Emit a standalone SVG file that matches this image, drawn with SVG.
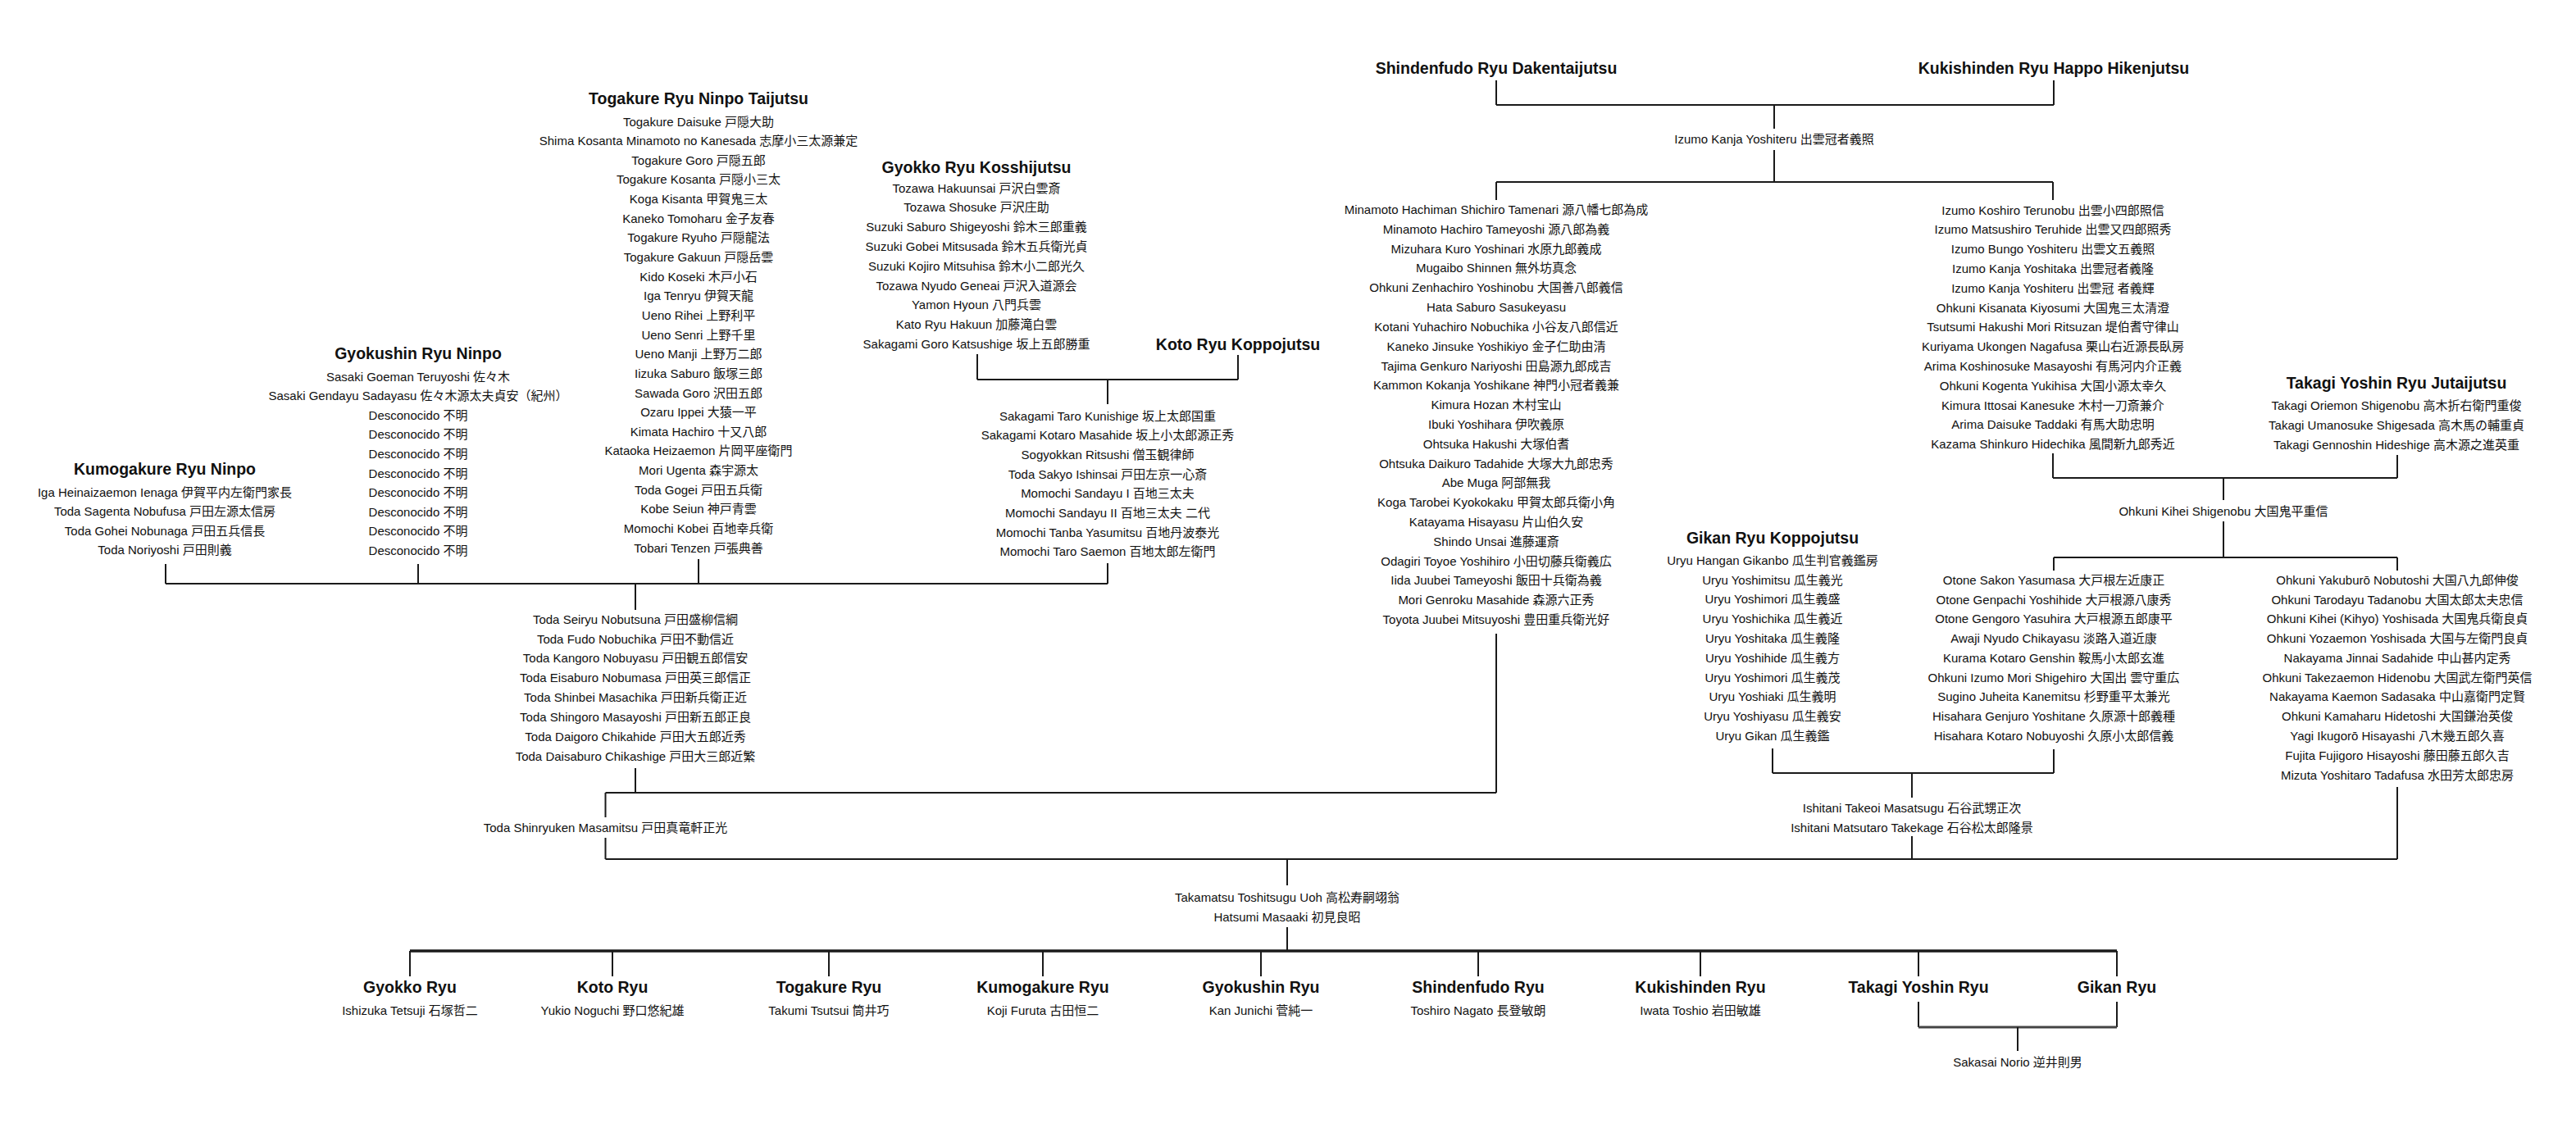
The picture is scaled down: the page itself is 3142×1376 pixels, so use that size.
<svg xmlns="http://www.w3.org/2000/svg" width="3142" height="1376" viewBox="0 0 3142 1376">
<style>
text{font-family:"Liberation Sans","Noto Sans CJK JP",sans-serif;fill:#111;text-anchor:middle}
.t{font-size:19.5px;font-weight:bold}
.e{font-size:15px}
.c line{stroke:#1a1a1a;stroke-width:2;fill:none}
</style>
<rect width="3142" height="1376" fill="#fff"/>
<g class="c" id="connectors">
<line x1="1825" y1="98" x2="1825" y2="128"/>
<line x1="2505" y1="98" x2="2505" y2="128"/>
<line x1="1825" y1="128" x2="2505" y2="128"/>
<line x1="2164" y1="128" x2="2164" y2="157"/>
<line x1="2164" y1="183" x2="2164" y2="222"/>
<line x1="1825" y1="222" x2="2504" y2="222"/>
<line x1="1825" y1="222" x2="2504" y2="222"/>
<line x1="1825" y1="222" x2="1825" y2="244"/>
<line x1="2504" y1="222" x2="2504" y2="244"/>
<line x1="1192" y1="432" x2="1192" y2="463"/>
<line x1="1510" y1="433" x2="1510" y2="463"/>
<line x1="1192" y1="463" x2="1510" y2="463"/>
<line x1="1351" y1="463" x2="1351" y2="493"/>
<line x1="202" y1="688" x2="202" y2="712"/>
<line x1="510" y1="688" x2="510" y2="712"/>
<line x1="852" y1="682" x2="852" y2="712"/>
<line x1="1351" y1="687" x2="1351" y2="712"/>
<line x1="202" y1="712" x2="1351" y2="712"/>
<line x1="775" y1="712" x2="775" y2="744"/>
<line x1="775" y1="937" x2="775" y2="967"/>
<line x1="1825" y1="773" x2="1825" y2="967"/>
<line x1="738.5" y1="967" x2="1825" y2="967"/>
<line x1="738.5" y1="967" x2="738.5" y2="997"/>
<line x1="738.5" y1="1022" x2="738.5" y2="1048"/>
<line x1="738.5" y1="1048" x2="2924" y2="1048"/>
<line x1="2504" y1="553" x2="2504" y2="583"/>
<line x1="2924" y1="555" x2="2924" y2="583"/>
<line x1="2504" y1="583" x2="2924" y2="583"/>
<line x1="2712" y1="583" x2="2712" y2="610"/>
<line x1="2712" y1="636" x2="2712" y2="680"/>
<line x1="2505" y1="680" x2="2924" y2="680"/>
<line x1="2505" y1="680" x2="2505" y2="696"/>
<line x1="2924" y1="680" x2="2924" y2="696"/>
<line x1="2162" y1="913" x2="2162" y2="943"/>
<line x1="2505" y1="914" x2="2505" y2="943"/>
<line x1="2162" y1="943" x2="2505" y2="943"/>
<line x1="2332" y1="943" x2="2332" y2="973"/>
<line x1="2332" y1="1020" x2="2332" y2="1048"/>
<line x1="2924" y1="960" x2="2924" y2="1048"/>
<line x1="1570" y1="1048" x2="1570" y2="1080"/>
<line x1="1570" y1="1131" x2="1570" y2="1160"/>
<line x1="500" y1="1160" x2="2582" y2="1160" style="stroke-width:3.5"/>
<line x1="500" y1="1160" x2="500" y2="1191"/>
<line x1="747" y1="1160" x2="747" y2="1191"/>
<line x1="1011" y1="1160" x2="1011" y2="1191"/>
<line x1="1272" y1="1160" x2="1272" y2="1191"/>
<line x1="1538" y1="1160" x2="1538" y2="1191"/>
<line x1="1803" y1="1160" x2="1803" y2="1191"/>
<line x1="2074" y1="1160" x2="2074" y2="1191"/>
<line x1="2340" y1="1160" x2="2340" y2="1191"/>
<line x1="2582" y1="1160" x2="2582" y2="1191"/>
<line x1="2340" y1="1222" x2="2340" y2="1253"/>
<line x1="2582" y1="1222" x2="2582" y2="1253"/>
<line x1="2340" y1="1253" x2="2582" y2="1253" style="stroke-width:3;stroke:#444"/>
<line x1="2461" y1="1253" x2="2461" y2="1282"/>
</g>

<g id="shindenfudo-top"><text class="t" x="1825" y="90">Shindenfudo Ryu Dakentaijutsu</text></g>
<g id="kukishinden-top"><text class="t" x="2505" y="90">Kukishinden Ryu Happo Hikenjutsu</text></g>
<g id="izumo-kanja"><text class="e" x="2164" y="174.5">Izumo Kanja Yoshiteru 出雲冠者義照</text></g>

<g id="togakure">
<text class="t" x="852" y="127">Togakure Ryu Ninpo Taijutsu</text>
<text class="e" x="852" y="153.5">Togakure Daisuke 戸隠大助</text>
<text class="e" x="852" y="177.1">Shima Kosanta Minamoto no Kanesada 志摩小三太源兼定</text>
<text class="e" x="852" y="200.8">Togakure Goro 戸隠五郎</text>
<text class="e" x="852" y="224.4">Togakure Kosanta 戸隠小三太</text>
<text class="e" x="852" y="248.1">Koga Kisanta 甲賀鬼三太</text>
<text class="e" x="852" y="271.7">Kaneko Tomoharu 金子友春</text>
<text class="e" x="852" y="295.3">Togakure Ryuho 戸隠龍法</text>
<text class="e" x="852" y="319">Togakure Gakuun 戸隠岳雲</text>
<text class="e" x="852" y="342.6">Kido Koseki 木戸小石</text>
<text class="e" x="852" y="366.3">Iga Tenryu 伊賀天龍</text>
<text class="e" x="852" y="389.9">Ueno Rihei 上野利平</text>
<text class="e" x="852" y="413.5">Ueno Senri 上野千里</text>
<text class="e" x="852" y="437.2">Ueno Manji 上野万二郎</text>
<text class="e" x="852" y="460.8">Iizuka Saburo 飯塚三郎</text>
<text class="e" x="852" y="484.5">Sawada Goro 沢田五郎</text>
<text class="e" x="852" y="508.1">Ozaru Ippei 大猿一平</text>
<text class="e" x="852" y="531.7">Kimata Hachiro 十又八郎</text>
<text class="e" x="852" y="555.4">Kataoka Heizaemon 片岡平座衛門</text>
<text class="e" x="852" y="579">Mori Ugenta 森宇源太</text>
<text class="e" x="852" y="602.7">Toda Gogei 戸田五兵衛</text>
<text class="e" x="852" y="626.3">Kobe Seiun 神戸青雲</text>
<text class="e" x="852" y="649.9">Momochi Kobei 百地幸兵衛</text>
<text class="e" x="852" y="673.6">Tobari Tenzen 戸張典善</text>
</g>

<g id="gyokko">
<text class="t" x="1191" y="211">Gyokko Ryu Kosshijutsu</text>
<text class="e" x="1191" y="234.5">Tozawa Hakuunsai 戸沢白雲斎</text>
<text class="e" x="1191" y="258.3">Tozawa Shosuke 戸沢庄助</text>
<text class="e" x="1191" y="282.1">Suzuki Saburo Shigeyoshi 鈴木三郎重義</text>
<text class="e" x="1191" y="305.9">Suzuki Gobei Mitsusada 鈴木五兵衛光貞</text>
<text class="e" x="1191" y="329.7">Suzuki Kojiro Mitsuhisa 鈴木小二郎光久</text>
<text class="e" x="1191" y="353.5">Tozawa Nyudo Geneai 戸沢入道源会</text>
<text class="e" x="1191" y="377.3">Yamon Hyoun 八門兵雲</text>
<text class="e" x="1191" y="401.1">Kato Ryu Hakuun 加藤滝白雲</text>
<text class="e" x="1191" y="424.9">Sakagami Goro Katsushige 坂上五郎勝重</text>
</g>

<g id="koto">
<text class="t" x="1510" y="427">Koto Ryu Koppojutsu</text>
<text class="e" x="1351" y="512.5">Sakagami Taro Kunishige 坂上太郎国重</text>
<text class="e" x="1351" y="536.2">Sakagami Kotaro Masahide 坂上小太郎源正秀</text>
<text class="e" x="1351" y="559.9">Sogyokkan Ritsushi 僧玉観律師</text>
<text class="e" x="1351" y="583.6">Toda Sakyo Ishinsai 戸田左京一心斎</text>
<text class="e" x="1351" y="607.3">Momochi Sandayu I 百地三太夫</text>
<text class="e" x="1351" y="631">Momochi Sandayu II 百地三太夫 二代</text>
<text class="e" x="1351" y="654.7">Momochi Tanba Yasumitsu 百地丹波泰光</text>
<text class="e" x="1351" y="678.4">Momochi Taro Saemon 百地太郎左衛門</text>
</g>

<g id="gyokushin">
<text class="t" x="510" y="438">Gyokushin Ryu Ninpo</text>
<text class="e" x="510" y="464.5">Sasaki Goeman Teruyoshi 佐々木</text>
<text class="e" x="510" y="488.1">Sasaki Gendayu Sadayasu 佐々木源太夫貞安（紀州）</text>
<text class="e" x="510" y="511.7">Desconocido 不明</text>
<text class="e" x="510" y="535.3">Desconocido 不明</text>
<text class="e" x="510" y="558.9">Desconocido 不明</text>
<text class="e" x="510" y="582.5">Desconocido 不明</text>
<text class="e" x="510" y="606.1">Desconocido 不明</text>
<text class="e" x="510" y="629.7">Desconocido 不明</text>
<text class="e" x="510" y="653.3">Desconocido 不明</text>
<text class="e" x="510" y="676.9">Desconocido 不明</text>
</g>

<g id="kumogakure">
<text class="t" x="201" y="579">Kumogakure Ryu Ninpo</text>
<text class="e" x="201" y="605.5">Iga Heinaizaemon Ienaga 伊賀平内左衛門家長</text>
<text class="e" x="201" y="629">Toda Sagenta Nobufusa 戸田左源太信房</text>
<text class="e" x="201" y="652.5">Toda Gohei Nobunaga 戸田五兵信長</text>
<text class="e" x="201" y="676">Toda Noriyoshi 戸田則義</text>
</g>

<g id="toda">
<text class="e" x="775" y="760.5">Toda Seiryu Nobutsuna 戸田盛柳信綱</text>
<text class="e" x="775" y="784.5">Toda Fudo Nobuchika 戸田不動信近</text>
<text class="e" x="775" y="808.4">Toda Kangoro Nobuyasu 戸田観五郎信安</text>
<text class="e" x="775" y="832.4">Toda Eisaburo Nobumasa 戸田英三郎信正</text>
<text class="e" x="775" y="856.3">Toda Shinbei Masachika 戸田新兵衛正近</text>
<text class="e" x="775" y="880.3">Toda Shingoro Masayoshi 戸田新五郎正良</text>
<text class="e" x="775" y="904.2">Toda Daigoro Chikahide 戸田大五郎近秀</text>
<text class="e" x="775" y="928.2">Toda Daisaburo Chikashige 戸田大三郎近繁</text>
</g>
<g id="toda-shinryuken"><text class="e" x="738.5" y="1015">Toda Shinryuken Masamitsu 戸田真竜軒正光</text></g>

<g id="shindenfudo-line">
<text class="e" x="1825" y="261">Minamoto Hachiman Shichiro Tamenari 源八幡七郎為成</text>
<text class="e" x="1825" y="284.8">Minamoto Hachiro Tameyoshi 源八郎為義</text>
<text class="e" x="1825" y="308.6">Mizuhara Kuro Yoshinari 水原九郎義成</text>
<text class="e" x="1825" y="332.4">Mugaibo Shinnen 無外坊真念</text>
<text class="e" x="1825" y="356.2">Ohkuni Zenhachiro Yoshinobu 大国善八郎義信</text>
<text class="e" x="1825" y="380.1">Hata Saburo Sasukeyasu</text>
<text class="e" x="1825" y="403.9">Kotani Yuhachiro Nobuchika 小谷友八郎信近</text>
<text class="e" x="1825" y="427.7">Kaneko Jinsuke Yoshikiyo 金子仁助由清</text>
<text class="e" x="1825" y="451.5">Tajima Genkuro Nariyoshi 田島源九郎成吉</text>
<text class="e" x="1825" y="475.3">Kammon Kokanja Yoshikane 神門小冠者義兼</text>
<text class="e" x="1825" y="499.1">Kimura Hozan 木村宝山</text>
<text class="e" x="1825" y="522.9">Ibuki Yoshihara 伊吹義原</text>
<text class="e" x="1825" y="546.7">Ohtsuka Hakushi 大塚伯耆</text>
<text class="e" x="1825" y="570.5">Ohtsuka Daikuro Tadahide 大塚大九郎忠秀</text>
<text class="e" x="1825" y="594.3">Abe Muga 阿部無我</text>
<text class="e" x="1825" y="618.2">Koga Tarobei Kyokokaku 甲賀太郎兵衛小角</text>
<text class="e" x="1825" y="642">Katayama Hisayasu 片山伯久安</text>
<text class="e" x="1825" y="665.8">Shindo Unsai 進藤運斎</text>
<text class="e" x="1825" y="689.6">Odagiri Toyoe Yoshihiro 小田切藤兵衛義広</text>
<text class="e" x="1825" y="713.4">Iida Juubei Tameyoshi 飯田十兵衛為義</text>
<text class="e" x="1825" y="737.2">Mori Genroku Masahide 森源六正秀</text>
<text class="e" x="1825" y="761">Toyota Juubei Mitsuyoshi 豊田重兵衛光好</text>
</g>

<g id="kukishinden-line">
<text class="e" x="2504" y="261.5">Izumo Koshiro Terunobu 出雲小四郎照信</text>
<text class="e" x="2504" y="285.3">Izumo Matsushiro Teruhide 出雲又四郎照秀</text>
<text class="e" x="2504" y="309.1">Izumo Bungo Yoshiteru 出雲文五義照</text>
<text class="e" x="2504" y="332.9">Izumo Kanja Yoshitaka 出雲冠者義隆</text>
<text class="e" x="2504" y="356.7">Izumo Kanja Yoshiteru 出雲冠 者義輝</text>
<text class="e" x="2504" y="380.5">Ohkuni Kisanata Kiyosumi 大国鬼三太清澄</text>
<text class="e" x="2504" y="404.3">Tsutsumi Hakushi Mori Ritsuzan 堤伯耆守律山</text>
<text class="e" x="2504" y="428.1">Kuriyama Ukongen Nagafusa 栗山右近源長臥房</text>
<text class="e" x="2504" y="451.9">Arima Koshinosuke Masayoshi 有馬河内介正義</text>
<text class="e" x="2504" y="475.7">Ohkuni Kogenta Yukihisa 大国小源太幸久</text>
<text class="e" x="2504" y="499.5">Kimura Ittosai Kanesuke 木村一刀斎兼介</text>
<text class="e" x="2504" y="523.3">Arima Daisuke Taddaki 有馬大助忠明</text>
<text class="e" x="2504" y="547.1">Kazama Shinkuro Hidechika 風間新九郎秀近</text>
</g>

<g id="takagi">
<text class="t" x="2923" y="474">Takagi Yoshin Ryu Jutaijutsu</text>
<text class="e" x="2923" y="499.5">Takagi Oriemon Shigenobu 高木折右衛門重俊</text>
<text class="e" x="2923" y="523.5">Takagi Umanosuke Shigesada 高木馬の輔重貞</text>
<text class="e" x="2923" y="547.5">Takagi Gennoshin Hideshige 高木源之進英重</text>
</g>
<g id="ohkuni-kihei"><text class="e" x="2712" y="628.5">Ohkuni Kihei Shigenobu 大国鬼平重信</text></g>

<g id="gikan">
<text class="t" x="2162" y="663">Gikan Ryu Koppojutsu</text>
<text class="e" x="2162" y="688.8">Uryu Hangan Gikanbo 瓜生判官義鑑房</text>
<text class="e" x="2162" y="712.6">Uryu Yoshimitsu 瓜生義光</text>
<text class="e" x="2162" y="736.4">Uryu Yoshimori 瓜生義盛</text>
<text class="e" x="2162" y="760.2">Uryu Yoshichika 瓜生義近</text>
<text class="e" x="2162" y="784">Uryu Yoshitaka 瓜生義隆</text>
<text class="e" x="2162" y="807.8">Uryu Yoshihide 瓜生義方</text>
<text class="e" x="2162" y="831.6">Uryu Yoshimori 瓜生義茂</text>
<text class="e" x="2162" y="855.4">Uryu Yoshiaki 瓜生義明</text>
<text class="e" x="2162" y="879.2">Uryu Yoshiyasu 瓜生義安</text>
<text class="e" x="2162" y="903">Uryu Gikan 瓜生義鑑</text>
</g>

<g id="otone">
<text class="e" x="2505" y="712.8">Otone Sakon Yasumasa 大戸根左近康正</text>
<text class="e" x="2505" y="736.6">Otone Genpachi Yoshihide 大戸根源八康秀</text>
<text class="e" x="2505" y="760.3">Otone Gengoro Yasuhira 大戸根源五郎康平</text>
<text class="e" x="2505" y="784.1">Awaji Nyudo Chikayasu 淡路入道近康</text>
<text class="e" x="2505" y="807.8">Kurama Kotaro Genshin 鞍馬小太郎玄進</text>
<text class="e" x="2505" y="831.6">Ohkuni Izumo Mori Shigehiro 大国出 雲守重広</text>
<text class="e" x="2505" y="855.3">Sugino Juheita Kanemitsu 杉野重平太兼光</text>
<text class="e" x="2505" y="879.1">Hisahara Genjuro Yoshitane 久原源十郎義種</text>
<text class="e" x="2505" y="902.8">Hisahara Kotaro Nobuyoshi 久原小太郎信義</text>
</g>

<g id="ohkuni">
<text class="e" x="2924" y="712.8">Ohkuni Yakuburō Nobutoshi 大国八九郎伸俊</text>
<text class="e" x="2924" y="736.6">Ohkuni Tarodayu Tadanobu 大国太郎太夫忠信</text>
<text class="e" x="2924" y="760.3">Ohkuni Kihei (Kihyo) Yoshisada 大国鬼兵衛良貞</text>
<text class="e" x="2924" y="784.1">Ohkuni Yozaemon Yoshisada 大国与左衛門良貞</text>
<text class="e" x="2924" y="807.9">Nakayama Jinnai Sadahide 中山甚内定秀</text>
<text class="e" x="2924" y="831.7">Ohkuni Takezaemon Hidenobu 大国武左衛門英信</text>
<text class="e" x="2924" y="855.4">Nakayama Kaemon Sadasaka 中山嘉衛門定賢</text>
<text class="e" x="2924" y="879.2">Ohkuni Kamaharu Hidetoshi 大国鎌治英俊</text>
<text class="e" x="2924" y="903">Yagi Ikugorō Hisayashi 八木幾五郎久喜</text>
<text class="e" x="2924" y="926.7">Fujita Fujigoro Hisayoshi 藤田藤五郎久吉</text>
<text class="e" x="2924" y="950.5">Mizuta Yoshitaro Tadafusa 水田芳太郎忠房</text>
</g>

<g id="ishitani">
<text class="e" x="2332" y="990.5">Ishitani Takeoi Masatsugu 石谷武甥正次</text>
<text class="e" x="2332" y="1014.5">Ishitani Matsutaro Takekage 石谷松太郎隆景</text>
</g>

<g id="takamatsu">
<text class="e" x="1570" y="1099.5">Takamatsu Toshitsugu Uoh 高松寿嗣翊翁</text>
<text class="e" x="1570" y="1124">Hatsumi Masaaki 初見良昭</text>
</g>

<g id="b-gyokko"><text class="t" x="500" y="1211">Gyokko Ryu</text><text class="e" x="500" y="1237.5">Ishizuka Tetsuji 石塚哲二</text></g>
<g id="b-koto"><text class="t" x="747" y="1211">Koto Ryu</text><text class="e" x="747" y="1237.5">Yukio Noguchi 野口悠紀雄</text></g>
<g id="b-togakure"><text class="t" x="1011" y="1211">Togakure Ryu</text><text class="e" x="1011" y="1237.5">Takumi Tsutsui 筒井巧</text></g>
<g id="b-kumogakure"><text class="t" x="1272" y="1211">Kumogakure Ryu</text><text class="e" x="1272" y="1237.5">Koji Furuta 古田恒二</text></g>
<g id="b-gyokushin"><text class="t" x="1538" y="1211">Gyokushin Ryu</text><text class="e" x="1538" y="1237.5">Kan Junichi 菅純一</text></g>
<g id="b-shindenfudo"><text class="t" x="1803" y="1211">Shindenfudo Ryu</text><text class="e" x="1803" y="1237.5">Toshiro Nagato 長登敏朗</text></g>
<g id="b-kukishinden"><text class="t" x="2074" y="1211">Kukishinden Ryu</text><text class="e" x="2074" y="1237.5">Iwata Toshio 岩田敏雄</text></g>
<g id="b-takagi"><text class="t" x="2340" y="1211">Takagi Yoshin Ryu</text></g>
<g id="b-gikan"><text class="t" x="2582" y="1211">Gikan Ryu</text></g>
<g id="b-sakasai"><text class="e" x="2461" y="1301">Sakasai Norio 逆井則男</text></g>
</svg>
